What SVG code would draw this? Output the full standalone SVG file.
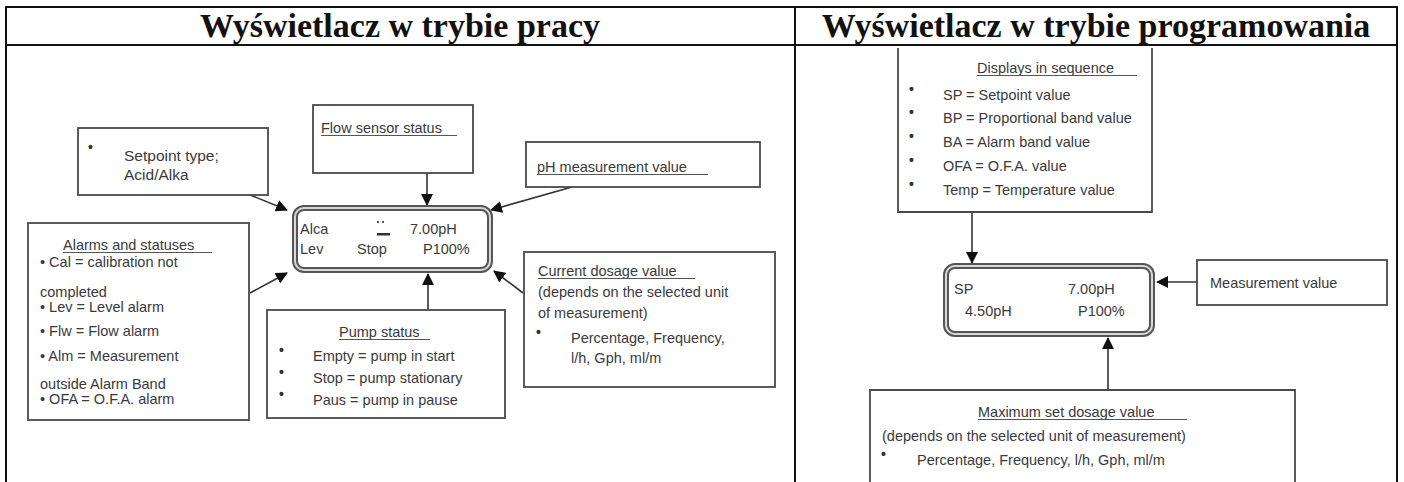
<svg xmlns="http://www.w3.org/2000/svg" width="1404" height="482" viewBox="0 0 1404 482">
<defs>
<style>
.t{font-family:"Liberation Sans",Arial,sans-serif;font-size:14.5px;fill:#3a3a3a}
.h{font-family:"Liberation Serif","Times New Roman",serif;font-size:34px;font-weight:bold;fill:#111}
.bx{fill:#fff;stroke:#4a4a4a;stroke-width:1.8}
.ul{stroke:#555;stroke-width:1}
.ln{stroke:#333;stroke-width:1.6;fill:none}
.bu{font-family:"Liberation Sans",Arial,sans-serif;font-size:14px;font-weight:bold;fill:#333}
.d1{fill:#fff;stroke:#555;stroke-width:6}
.d2{fill:none;stroke:#d8d8d8;stroke-width:2}
.tb{stroke:#111;stroke-width:2;fill:none}
</style>
<marker id="ah" markerWidth="12" markerHeight="12" refX="11" refY="6" orient="auto" markerUnits="userSpaceOnUse"><path d="M0,0 L12,6 L0,12 z" fill="#111"/></marker>
</defs>
<rect width="1404" height="482" fill="#fff"/>
<g id="table">
<line class="tb" x1="5" y1="7" x2="1398" y2="7"/>
<line class="tb" x1="5" y1="45" x2="1398" y2="45"/>
<line class="tb" x1="6" y1="6" x2="6" y2="482"/>
<line class="tb" x1="795" y1="6" x2="795" y2="482"/>
<line class="tb" x1="1397" y1="6" x2="1397" y2="482"/>
<text class="h" x="400" y="37" text-anchor="middle">Wyświetlacz w trybie pracy</text>
<text class="h" x="1096" y="37" text-anchor="middle">Wyświetlacz w trybie programowania</text>
</g>
<g id="connectors">
<line class="ln" x1="243" y1="192" x2="287" y2="210" marker-end="url(#ah)"/>
<line class="ln" x1="427" y1="173" x2="427" y2="205" marker-end="url(#ah)"/>
<line class="ln" x1="572" y1="187" x2="491" y2="210" marker-end="url(#ah)"/>
<line class="ln" x1="250" y1="293" x2="287" y2="273" marker-end="url(#ah)"/>
<line class="ln" x1="428" y1="310" x2="428" y2="274" marker-end="url(#ah)"/>
<line class="ln" x1="523" y1="293" x2="494" y2="271" marker-end="url(#ah)"/>
<line class="ln" x1="972" y1="212" x2="972" y2="263" marker-end="url(#ah)"/>
<line class="ln" x1="1197" y1="282" x2="1157" y2="282" marker-end="url(#ah)"/>
<line class="ln" x1="1108" y1="390" x2="1108" y2="338" marker-end="url(#ah)"/>
</g>
<g id="setpoint">
<rect class="bx" x="78" y="128" width="190" height="67"/>
<text class="bu" x="88" y="152">•</text>
<text class="t" style="font-size:15.5px" x="124" y="161">Setpoint type;</text>
<text class="t" style="font-size:15.5px" x="124" y="180">Acid/Alka</text>
</g>
<g id="flow">
<rect class="bx" x="313" y="105" width="160" height="68"/>
<text class="t" x="321" y="133">Flow sensor status</text>
<line class="ul" x1="321" y1="135.5" x2="457" y2="135.5"/>
</g>
<g id="ph">
<rect class="bx" x="526" y="142" width="234" height="45"/>
<text class="t" x="537" y="172">pH measurement value</text>
<line class="ul" x1="537" y1="174.5" x2="708" y2="174.5"/>
</g>
<g id="display-run">
<rect class="d1" x="295" y="208" width="195" height="62" rx="9"/>
<rect class="d2" x="295" y="208" width="195" height="62" rx="9"/>
<text class="t" x="300" y="234">Alca</text>
<rect x="377" y="221" width="2" height="2" fill="#555"/>
<rect x="382" y="221" width="2" height="2" fill="#555"/>
<rect x="377" y="233" width="13" height="2.5" fill="#333"/>
<text class="t" x="410" y="234">7.00pH</text>
<text class="t" x="300" y="254">Lev</text>
<text class="t" x="357" y="254">Stop</text>
<text class="t" x="423" y="254">P100%</text>
</g>
<g id="alarms">
<rect class="bx" x="28" y="223" width="221" height="197"/>
<text class="t" x="63" y="250">Alarms and statuses</text>
<line class="ul" x1="63" y1="252.5" x2="212" y2="252.5"/>
<text class="t" x="40" y="267">• Cal = calibration not</text>
<text class="t" x="40" y="297">completed</text>
<text class="t" x="40" y="312">• Lev = Level alarm</text>
<text class="t" x="40" y="336">• Flw = Flow alarm</text>
<text class="t" x="40" y="361">• Alm = Measurement</text>
<text class="t" x="40" y="389">outside Alarm Band</text>
<text class="t" x="40" y="404">• OFA = O.F.A. alarm</text>
</g>
<g id="pump">
<rect class="bx" x="267" y="310" width="238" height="108"/>
<text class="t" x="339" y="337">Pump status</text>
<line class="ul" x1="339" y1="339.5" x2="430" y2="339.5"/>
<text class="bu" x="279" y="355">•</text>
<text class="t" x="313" y="361">Empty = pump in start</text>
<text class="bu" x="279" y="377">•</text>
<text class="t" x="313" y="383">Stop = pump stationary</text>
<text class="bu" x="279" y="399">•</text>
<text class="t" x="313" y="405">Paus = pump in pause</text>
</g>
<g id="dosage">
<rect class="bx" x="524" y="252" width="251" height="135"/>
<text class="t" x="538" y="276">Current dosage value</text>
<line class="ul" x1="538" y1="278.5" x2="695" y2="278.5"/>
<text class="t" x="538" y="297">(depends on the selected unit</text>
<text class="t" x="538" y="318">of measurement)</text>
<text class="bu" x="536" y="337">•</text>
<text class="t" x="571" y="343">Percentage, Frequency,</text>
<text class="t" x="571" y="363">l/h, Gph, ml/m</text>
</g>
<g id="sequence">
<path class="bx" d="M898,48 V212 H1152 V48" fill="#fff"/>
<text class="t" x="977" y="73">Displays in sequence</text>
<line class="ul" x1="977" y1="75.5" x2="1137" y2="75.5"/>
<text class="bu" x="909" y="94">•</text>
<text class="t" x="943" y="100">SP = Setpoint value</text>
<text class="bu" x="909" y="117">•</text>
<text class="t" x="943" y="123">BP = Proportional band value</text>
<text class="bu" x="909" y="141">•</text>
<text class="t" x="943" y="147">BA = Alarm band value</text>
<text class="bu" x="909" y="165">•</text>
<text class="t" x="943" y="171">OFA = O.F.A. value</text>
<text class="bu" x="909" y="189">•</text>
<text class="t" x="943" y="195">Temp = Temperature value</text>
</g>
<g id="display-prog">
<rect class="d1" x="946" y="266" width="206" height="68" rx="9"/>
<rect class="d2" x="946" y="266" width="206" height="68" rx="9"/>
<text class="t" x="954" y="294">SP</text>
<text class="t" x="1068" y="294">7.00pH</text>
<text class="t" x="965" y="316">4.50pH</text>
<text class="t" x="1078" y="316">P100%</text>
</g>
<g id="measurement">
<rect class="bx" x="1197" y="260" width="190" height="45"/>
<text class="t" x="1210" y="288">Measurement value</text>
</g>
<g id="maxdosage">
<path class="bx" d="M870,484 V390 H1295 V484"/>
<text class="t" x="978" y="417">Maximum set dosage value</text>
<line class="ul" x1="978" y1="419.5" x2="1187" y2="419.5"/>
<text class="t" x="882" y="441">(depends on the selected unit of measurement)</text>
<text class="bu" x="881" y="459">•</text>
<text class="t" x="917" y="465">Percentage, Frequency, l/h, Gph, ml/m</text>
</g>
</svg>
